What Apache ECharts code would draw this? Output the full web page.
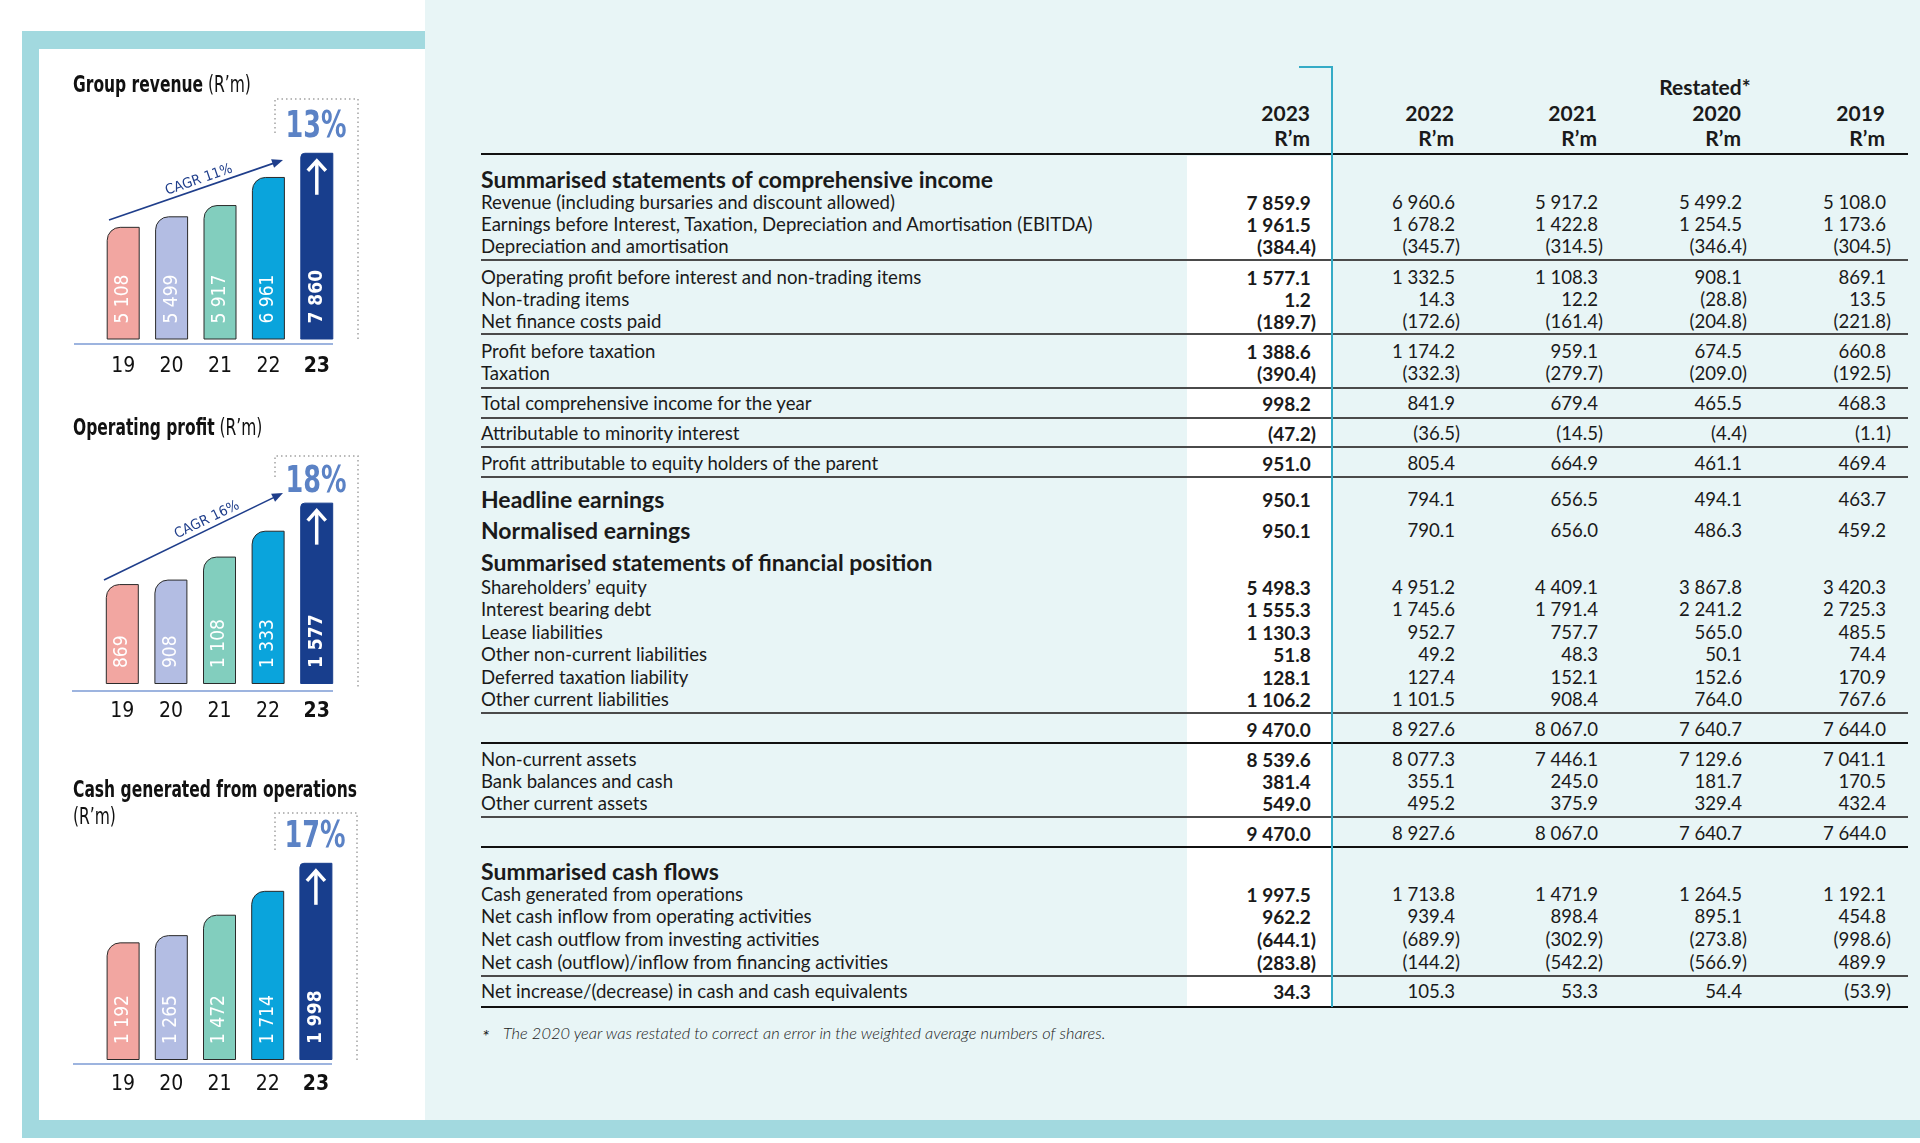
<!DOCTYPE html>
<html>
<head>
<meta charset="utf-8">
<script src="https://cdn.jsdelivr.net/npm/echarts@6/dist/echarts.min.js"></script>
<style>
body { margin: 0; width: 1920px; height: 1143px; position: relative; overflow: hidden; background: #fff; }
.abs { position: absolute; }
#tbl div { position: absolute; white-space: nowrap; color: #1a1a1a; }
</style>
</head>
<body>
<div class="abs" style="left:425px;top:0;width:1495px;height:1120px;background:#e8f5f6"></div>
<div class="abs" style="left:22px;top:31px;width:403px;height:18px;background:#a2d9df"></div>
<div class="abs" style="left:22px;top:31px;width:17px;height:1107px;background:#a2d9df"></div>
<div class="abs" style="left:22px;top:1120px;width:1898px;height:18px;background:#a2d9df"></div>
<div class="abs" style="left:1187px;top:156px;width:144px;height:851px;background:#fff"></div>
<div id="tbl"></div>
<div class="abs" style="left:1299px;top:66px;width:34px;height:2px;background:#35abc6"></div>
<div class="abs" style="left:1331px;top:66px;width:2px;height:941px;background:#35abc6"></div>
<div id="chart" class="abs" style="left:0;top:0;width:425px;height:1120px;z-index:5"></div>

<script>
// ---- chart data ----
const years = ["19", "20", "21", "22", "23"];
const revenue = [5108, 5499, 5917, 6961, 7860];
const operatingProfit = [869, 908, 1108, 1333, 1577];
const cashGenerated = [1192, 1265, 1472, 1714, 1998];
const growth = ["13%", "18%", "17%"];
const cagr = ["CAGR 11%", "CAGR 16%", null];

// ---- table data ----
const colYears = ["2023", "2022", "2021", "2020", "2019"];
const rowLabels = [
  "Summarised statements of comprehensive income",
  "Revenue (including bursaries and discount allowed)",
  "Earnings before Interest, Taxation, Depreciation and Amortisation (EBITDA)",
  "Depreciation and amortisation",
  "Operating profit before interest and non-trading items",
  "Non-trading items",
  "Net finance costs paid",
  "Profit before taxation",
  "Taxation",
  "Total comprehensive income for the year",
  "Attributable to minority interest",
  "Profit attributable to equity holders of the parent",
  "Headline earnings",
  "Normalised earnings",
  "Summarised statements of financial position",
  "Shareholders’ equity",
  "Interest bearing debt",
  "Lease liabilities",
  "Other non-current liabilities",
  "Deferred taxation liability",
  "Other current liabilities",
  "",
  "Non-current assets",
  "Bank balances and cash",
  "Other current assets",
  "",
  "Summarised cash flows",
  "Cash generated from operations",
  "Net cash inflow from operating activities",
  "Net cash outflow from investing activities",
  "Net cash (outflow)/inflow from financing activities",
  "Net increase/(decrease) in cash and cash equivalents"
];
const rowKinds = ["h","n","n","n","n","n","n","n","n","n","n","n","b","b","h","n","n","n","n","n","n","t","n","n","n","t","h","n","n","n","n","n"];
const v2023 = [null, 7859.9, 1961.5, -384.4, 1577.1, 1.2, -189.7, 1388.6, -390.4, 998.2, -47.2, 951.0, 950.1, 950.1, null, 5498.3, 1555.3, 1130.3, 51.8, 128.1, 1106.2, 9470.0, 8539.6, 381.4, 549.0, 9470.0, null, 1997.5, 962.2, -644.1, -283.8, 34.3];
const v2022 = [null, 6960.6, 1678.2, -345.7, 1332.5, 14.3, -172.6, 1174.2, -332.3, 841.9, -36.5, 805.4, 794.1, 790.1, null, 4951.2, 1745.6, 952.7, 49.2, 127.4, 1101.5, 8927.6, 8077.3, 355.1, 495.2, 8927.6, null, 1713.8, 939.4, -689.9, -144.2, 105.3];
const v2021 = [null, 5917.2, 1422.8, -314.5, 1108.3, 12.2, -161.4, 959.1, -279.7, 679.4, -14.5, 664.9, 656.5, 656.0, null, 4409.1, 1791.4, 757.7, 48.3, 152.1, 908.4, 8067.0, 7446.1, 245.0, 375.9, 8067.0, null, 1471.9, 898.4, -302.9, -542.2, 53.3];
const v2020 = [null, 5499.2, 1254.5, -346.4, 908.1, -28.8, -204.8, 674.5, -209.0, 465.5, -4.4, 461.1, 494.1, 486.3, null, 3867.8, 2241.2, 565.0, 50.1, 152.6, 764.0, 7640.7, 7129.6, 181.7, 329.4, 7640.7, null, 1264.5, 895.1, -273.8, -566.9, 54.4];
const v2019 = [null, 5108.0, 1173.6, -304.5, 869.1, 13.5, -221.8, 660.8, -192.5, 468.3, -1.1, 469.4, 463.7, 459.2, null, 3420.3, 2725.3, 485.5, 74.4, 170.9, 767.6, 7644.0, 7041.1, 170.5, 432.4, 7644.0, null, 1192.1, 454.8, -998.6, 489.9, -53.9];
const footnote = "The 2020 year was restated to correct an error in the weighted average numbers of shares.";

// ---- layout (page pixels) ----
const rowY = [178, 204, 226, 248, 279, 301, 323, 353, 375, 405, 435, 465, 501, 532, 561, 589, 611, 634, 656, 679, 701, 731, 761, 783, 805, 835, 870, 896, 918, 941, 964, 993];
const thinRules = [260, 334, 388, 418, 447, 477, 713, 817, 976];
const thickRules = [154, 743, 847, 1007];
const colRight = [1316, 1460, 1603, 1747, 1891];

const COND = '"DejaVu Sans Condensed", "Liberation Sans", sans-serif';
const TFONT = '"Lato", "Open Sans", sans-serif';

function fmtNum(v) {
  const s = Math.abs(v).toFixed(1).split(".");
  const t = s[0].replace(/\B(?=(\d{3})+(?!\d))/g, " ") + "." + s[1];
  return v < 0 ? "(" + t + ")" : t + '<span style="visibility:hidden">)</span>';
}
function fmtInt(v) {
  return String(v).replace(/\B(?=(\d{3})+(?!\d))/g, " ");
}

// ---- table ----
const tbl = document.getElementById("tbl");
function addDiv(html, css) {
  const d = document.createElement("div");
  d.innerHTML = html;
  d.style.cssText = css;
  tbl.appendChild(d);
}
const H = 26;
addDiv("Restated*", `left:1605px;width:200px;text-align:center;top:${87 - H / 2}px;height:${H}px;line-height:${H}px;font:bold 21px ${TFONT}`);
colYears.forEach(function (yr, i) {
  const r = 1920 - colRight[i] + 6;
  addDiv(yr, `right:${r}px;top:${113 - H / 2}px;height:${H}px;line-height:${H}px;font:bold 21px ${TFONT}`);
  addDiv("R’m", `right:${r}px;top:${138 - H / 2}px;height:${H}px;line-height:${H}px;font:bold 21px ${TFONT}`);
});
const cols = [v2023, v2022, v2021, v2020, v2019];
rowLabels.forEach(function (lab, i) {
  const y = rowY[i] - H / 2;
  const k = rowKinds[i];
  if (lab) {
    const f = (k === "h" || k === "b") ? `bold 23px ${TFONT}` : `18.6px ${TFONT}`;
    const ly = k === "b" ? y - 3 : y;
    addDiv(lab, `left:481px;top:${ly}px;height:${H}px;line-height:${H}px;font:${f}`);
  }
  cols.forEach(function (arr, j) {
    if (arr[i] == null) return;
    const f = j === 0 ? `bold 19px ${TFONT}` : `18.6px ${TFONT}`;
    addDiv(fmtNum(arr[i]), `right:${1920 - colRight[j]}px;top:${y}px;height:${H}px;line-height:${H}px;font:${f}`);
  });
});
thinRules.forEach(function (y) {
  addDiv("", `left:481px;width:1427px;top:${y - 0.75}px;height:1.5px;background:#4a4a4a`);
});
thickRules.forEach(function (y) {
  addDiv("", `left:481px;width:1427px;top:${y - 1.25}px;height:2.5px;background:#111`);
});
addDiv("*", `left:482px;top:${1036 - 11}px;height:22px;line-height:22px;font:italic 18px ${TFONT}`);
addDiv(footnote, `left:503px;top:${1034 - 11}px;height:22px;line-height:22px;font:italic 300 16.4px ${TFONT}`);

// ---- charts ----
const barColors = ["#f2a6a1", "#b3bde3", "#82cebe", "#0aa4dc", "#183e8d"];
const panels = [
  { title: ["Group revenue", " (R’m)"], titleY: 86, values: revenue, min: 940, max: 8000,
    grid: { left: 99, width: 242, top: 149, height: 190 }, margin: 17,
    base: [74, 333, 344], box: [275, 358, 99, 133, 342], pct: [316, 127],
    arrow: [[109, 220], [283, 160], [199, 180]] },
  { title: ["Operating profit", " (R’m)"], titleY: 429, values: operatingProfit, min: 0, max: 1600,
    grid: { left: 98, width: 243, top: 500, height: 184 }, margin: 17,
    base: [72, 333, 691], box: [275, 358, 456, 477, 687], pct: [316, 482],
    arrow: [[104, 580], [283, 493], [207, 520]] },
  { title: ["Cash generated from operations", "\n(R’m)"], titleY: 805, values: cashGenerated, min: 0, max: 2000,
    grid: { left: 99, width: 241, top: 862.6, height: 197.4 }, margin: 14,
    base: [73, 332, 1064], box: [275, 357, 813, 850, 1062], pct: [315, 837],
    arrow: null }
];

// condensed look: measure and squeeze text drawn as graphics
const ctx = document.createElement("canvas").getContext("2d");
function textW(font, s) { ctx.font = font; return ctx.measureText(s).width; }
const titleScale = 284 / textW("bold 23px " + COND, "Cash generated from operations");
const pctScale = 61 / textW("bold 37px " + COND, "13%");
const cagrScale = 70 / textW("14px " + COND, "CAGR 11%");

const chart = echarts.init(document.getElementById("chart"));
chart.setOption({
  animation: false,
  grid: panels.map(function (p) { return p.grid; }),
  xAxis: panels.map(function (p, i) {
    return {
      type: "category", gridIndex: i, data: years,
      axisLine: { show: false }, axisTick: { show: false },
      axisLabel: {
        margin: p.margin, interval: 0,
        formatter: function (v) { return v === "23" ? "{b|" + v + "}" : "{n|" + v + "}"; },
        rich: {
          n: { fontFamily: COND, fontSize: 21, color: "#111" },
          b: { fontFamily: COND, fontSize: 21, color: "#111", fontWeight: "bold" }
        }
      }
    };
  }),
  yAxis: panels.map(function (p, i) {
    return { type: "value", gridIndex: i, min: p.min, max: p.max, show: false, splitLine: { show: false } };
  }),
  series: panels.map(function (p, i) {
    return {
      type: "bar", xAxisIndex: i, yAxisIndex: i, barWidth: 33,
      data: p.values.map(function (v, j) {
        return {
          value: v,
          itemStyle: {
            color: barColors[j],
            borderColor: j < 4 ? "#2b2b2b" : barColors[j],
            borderWidth: 1,
            borderRadius: j < 4 ? [13, 0, 0, 0] : [4, 0, 0, 0]
          },
          label: { fontWeight: j === 4 ? "bold" : "normal" }
        };
      }),
      label: {
        show: true, position: "insideBottom", rotate: 90, align: "left", verticalAlign: "middle",
        distance: 16, color: "#fff", fontSize: 19, fontFamily: COND,
        formatter: function (d) { return fmtInt(d.value); }
      }
    };
  })
});

// annotations
const g = [];
panels.forEach(function (p, i) {
  g.push({ type: "text", z: 50, x: 73, y: p.titleY, scaleX: titleScale,
    style: { text: "{b|" + p.title[0] + "}{r|" + p.title[1] + "}", verticalAlign: "middle",
      rich: {
        b: { fontFamily: COND, fontWeight: "bold", fontSize: 23, fill: "#111", lineHeight: 27 },
        r: { fontFamily: COND, fontSize: 23, fill: "#111", lineHeight: 27 }
      } } });
  g.push({ type: "line", z: 50, shape: { x1: p.base[0], y1: p.base[2], x2: p.base[1], y2: p.base[2] },
    style: { stroke: "#7d9bd4", lineWidth: 1.5 } });
  const b = p.box;
  g.push({ type: "polyline", z: 50, shape: { points: [[b[0], b[3]], [b[0], b[2]], [b[1], b[2]], [b[1], b[4]]] },
    style: { stroke: "#a3a3a3", lineWidth: 1.5, lineDash: [1.5, 3], fill: null } });
  g.push({ type: "text", z: 50, x: p.pct[0], y: p.pct[1], scaleX: pctScale,
    style: { text: growth[i], fill: "#5b82c5", fontFamily: COND, fontWeight: "bold", fontSize: 37,
      align: "center", verticalAlign: "middle" } });
  const top = chart.convertToPixel({ gridIndex: i }, [years[4], p.values[4]]);
  g.push({ type: "polyline", z: 60, shape: { points: [[top[0] - 9, top[1] + 18], [top[0], top[1] + 8], [top[0] + 9, top[1] + 18]] },
    style: { stroke: "#fff", lineWidth: 3.5, fill: null } });
  g.push({ type: "line", z: 60, shape: { x1: top[0], y1: top[1] + 8, x2: top[0], y2: top[1] + 42 },
    style: { stroke: "#fff", lineWidth: 3.5 } });
  if (p.arrow && cagr[i]) {
    const a = p.arrow[0], e = p.arrow[1], t = p.arrow[2];
    const ang = Math.atan2(e[1] - a[1], e[0] - a[0]);
    const ux = Math.cos(ang), uy = Math.sin(ang);
    const L = 11, W = 4.5;
    g.push({ type: "line", z: 50, shape: { x1: a[0], y1: a[1], x2: e[0] - ux * L * 0.8, y2: e[1] - uy * L * 0.8 },
      style: { stroke: "#1f3e8b", lineWidth: 1.6 } });
    g.push({ type: "polygon", z: 50, shape: { points: [
      [e[0], e[1]],
      [e[0] - ux * L - uy * W, e[1] - uy * L + ux * W],
      [e[0] - ux * L + uy * W, e[1] - uy * L - ux * W]] },
      style: { fill: "#1f3e8b" } });
    g.push({ type: "text", z: 50, x: t[0], y: t[1], rotation: -ang, scaleX: cagrScale,
      style: { text: cagr[i], fill: "#1f3e8b", fontFamily: COND, fontSize: 14,
        align: "center", verticalAlign: "middle" } });
  }
});
chart.setOption({ graphic: g });
</script>
</body>
</html>
